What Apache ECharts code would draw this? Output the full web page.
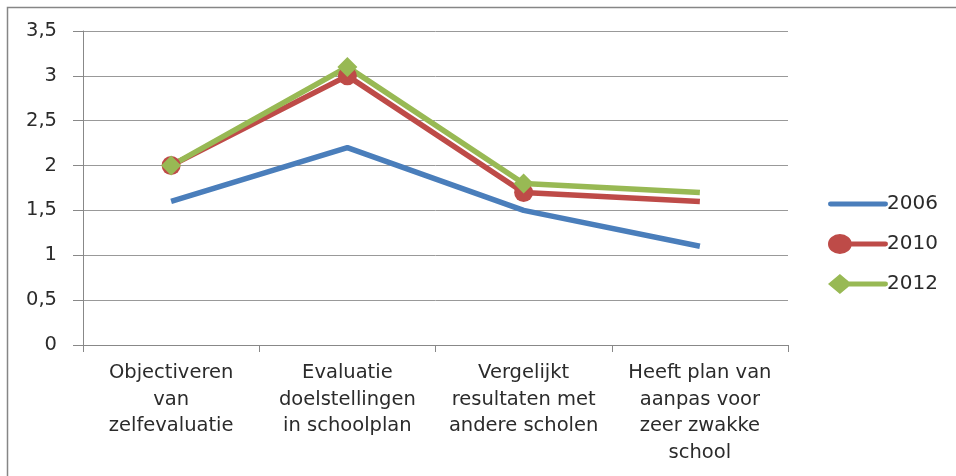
<!DOCTYPE html>
<html><head><meta charset="utf-8">
<script src="https://cdn.jsdelivr.net/npm/echarts@6/dist/echarts.min.js"></script>
<style>html,body{margin:0;padding:0;background:#fff}#c{width:956px;height:476px}</style>
</head><body><div id="c"></div>
<script>
const categories = ["Objectiveren\nvan\nzelfevaluatie", "Evaluatie\ndoelstellingen\nin schoolplan", "Vergelijkt\nresultaten met\nandere scholen", "Heeft plan van\naanpas voor\nzeer zwakke\nschool"];
const seriesNames = ["2006", "2010", "2012"];
const v2006 = [1.6, 2.2, 1.5, 1.1];
const v2010 = [2, 3, 1.7, 1.6];
const v2012 = [2, 3.1, 1.8, 1.7];
const yTicks = [0, 0.5, 1, 1.5, 2, 2.5, 3, 3.5];

const FONT = "DejaVu Sans";
const TXT = '#2b2b2b';
const chart = echarts.init(document.getElementById('c'));
function withMarks(vals, sym) {
  return vals.map((v, i) => ({ value: v, symbol: i < vals.length - 1 ? sym : 'none' }));
}
const iconLine = 'path://M2,7.5 L58,7.5 A2.5,2.5 0 0,1 58,12.5 L2,12.5 A2.5,2.5 0 0,1 2,7.5 Z';
const iconCircle = 'path://M0,10 A12,10 0 1,1 24,10 A12,10 0 1,1 0,10 Z M12,7.5 L58,7.5 A2.5,2.5 0 0,1 58,12.5 L12,12.5 Z';
const iconDiamond = 'path://M0,10 L12,0 L24,10 L12,20 Z M12,7.5 L58,7.5 A2.5,2.5 0 0,1 58,12.5 L12,12.5 Z';
chart.setOption({
  animation: false,
  textStyle: { fontFamily: FONT },
  graphic: [{ type: 'rect', shape: { x: 7.5, y: 7.5, width: 960, height: 480 }, style: { fill: 'none', stroke: '#868686', lineWidth: 1.5 }, silent: true }],
  grid: { left: 83, right: 168, top: 31, bottom: 131 },
  legend: {
    orient: 'vertical', left: 823, top: 189, itemGap: 20, itemWidth: 60, itemHeight: 20,
    textStyle: { fontFamily: FONT, fontSize: 20, color: TXT, padding: [0, 0, 0, -6] },
    data: [
      { name: seriesNames[0], icon: iconLine },
      { name: seriesNames[1], icon: iconCircle },
      { name: seriesNames[2], icon: iconDiamond }
    ]
  },
  xAxis: {
    type: 'category', data: categories, boundaryGap: true,
    axisLine: { lineStyle: { color: '#888', width: 1 } },
    axisTick: { show: true, length: 7, lineStyle: { color: '#888' } },
    axisLabel: { interval: 0, fontSize: 19.5, color: TXT, lineHeight: 26.5, margin: 15, fontFamily: FONT }
  },
  yAxis: {
    type: 'value', min: 0, max: 3.5, interval: 0.5,
    axisLine: { show: true, lineStyle: { color: '#888' } },
    axisTick: { show: true, length: 10, lineStyle: { color: '#888' } },
    splitLine: { lineStyle: { color: '#999', width: 1 } },
    axisLabel: { fontSize: 19.5, color: TXT, margin: 26, fontFamily: FONT,
      formatter: v => yTicks.includes(v) ? String(v).replace('.', ',') : '' }
  },
  series: [
    { name: seriesNames[0], type: 'line', data: v2006, symbol: 'none', lineStyle: { width: 5.5, color: '#4A7EBB' }, itemStyle: { color: '#4A7EBB' } },
    { name: seriesNames[1], type: 'line', data: withMarks(v2010, 'circle'), symbol: 'circle', symbolSize: 19, lineStyle: { width: 5.5, color: '#BE4B48' }, itemStyle: { color: '#BE4B48' } },
    { name: seriesNames[2], type: 'line', data: withMarks(v2012, 'diamond'), symbol: 'diamond', symbolSize: 20, lineStyle: { width: 5.5, color: '#98B954' }, itemStyle: { color: '#98B954' } }
  ]
});
</script></body></html>
